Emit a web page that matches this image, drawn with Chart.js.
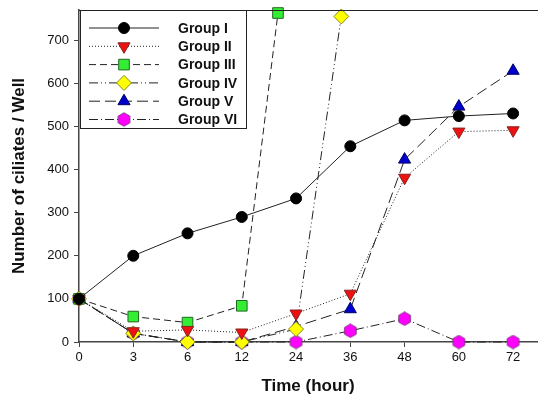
<!DOCTYPE html>
<html>
<head>
<meta charset="utf-8">
<script src="https://cdn.jsdelivr.net/npm/chart.js@4/dist/chart.umd.min.js"></script>
<style>
  html, body { margin: 0; padding: 0; background: #fff; }
  #wrap { width: 538px; height: 401px; }
</style>
</head>
<body>
<div id="wrap"><canvas id="Chart"></canvas></div>
<script>
// time axis categories (hours), evenly spaced on the plot
const hours = [0, 3, 6, 12, 24, 36, 48, 60, 72];
const yTicks = [0, 100, 200, 300, 400, 500, 600, 700];

// series values (time in hours, count per well)
const groupI_t   = [0, 3, 6, 12, 24, 36, 48, 60, 72];
const groupI     = [100, 200, 252, 290, 333, 454, 514, 524, 530];
const groupII_t  = [0, 3, 6, 12, 24, 36, 48, 60, 72];
const groupII    = [100, 25, 28, 22, 66, 112, 381, 488, 491];
const groupIII_t = [0, 3, 6, 12, 20];
const groupIII   = [100, 59, 45, 84, 763];
const groupIV_t  = [0, 3, 6, 12, 24, 34];
const groupIV    = [100, 20, 0, 0, 30, 755];
const groupV_t   = [0, 3, 6, 12, 24, 36, 48, 60, 72];
const groupV     = [100, 20, 0, 0, 36, 76, 423, 546, 629];
const groupVI_t  = [0, 3, 6, 12, 24, 36, 48, 60, 72];
const groupVI    = [100, 20, 0, 0, 0, 26, 54, 0, 0];

// hour -> position on the evenly spaced time axis
function hourPos(h) {
    for (let i = 0; i < hours.length - 1; i++) {
        if (h <= hours[i + 1]) {
            return i + (h - hours[i]) / (hours[i + 1] - hours[i]);
        }
    }
    return hours.length - 1;
}

function pts(ts, vs) {
    return ts.map((t, i) => ({ x: hourPos(t), y: vs[i] }));
}

// hexagon marker for Group VI
const hex = document.createElement('canvas');
hex.width = 15; hex.height = 15;
(function() {
    const c = hex.getContext('2d');
    c.beginPath();
    for (let k = 0; k < 6; k++) {
        const a = Math.PI / 2 + k * Math.PI / 3;
        const px = 7.5 + 6.8 * Math.cos(a), py = 7.5 + 6.8 * Math.sin(a);
        if (k === 0) c.moveTo(px, py); else c.lineTo(px, py);
    }
    c.closePath();
    c.fillStyle = '#ff00ff';
    c.fill();
    c.strokeStyle = '#663366';
    c.lineWidth = 0.8;
    c.stroke();
})();

function series(label, data, dash, style, fill, stroke, radius, rotation) {
    return {
        label: label,
        data: data,
        borderColor: '#222222',
        borderWidth: 1,
        borderDash: dash,
        pointStyle: style,
        pointRadius: radius,
        pointRotation: rotation || 0,
        pointBackgroundColor: fill,
        pointBorderColor: stroke,
        pointBorderWidth: 1,
        tension: 0,
        clip: false
    };
}

const datasets = [
    series('Group I',   pts(groupI_t, groupI),     [],                 'circle',   '#000000', '#000000', 5.5),
    series('Group II',  pts(groupII_t, groupII),   [1, 2],             'triangle', '#ee1111', '#882222', 7, 180),
    series('Group III', pts(groupIII_t, groupIII), [7, 4],             'rect',     '#33ee33', '#226622', 7.5),
    series('Group IV',  pts(groupIV_t, groupIV),   [9, 3, 1, 3, 1, 3], 'rectRot',  '#ffff00', '#888822', 7.5),
    series('Group V',   pts(groupV_t, groupV),     [11, 5],            'triangle', '#0000cc', '#000066', 7),
    series('Group VI',  pts(groupVI_t, groupVI),   [9, 3, 1, 3],       hex,        '#ff00ff', '#663366', 7)
];

// boxed legend in the top-left corner, with line samples and markers
const boxLegend = {
    id: 'boxLegend',
    afterDraw(chart) {
        const ctx = chart.ctx;
        const area = chart.chartArea;
        const x0 = area.left + 1, y0 = area.top, w = 166, h = 118;
        ctx.save();
        ctx.fillStyle = '#ffffff';
        ctx.fillRect(x0, y0, w, h);
        ctx.strokeStyle = '#222222';
        ctx.lineWidth = 1;
        ctx.strokeRect(x0 + 0.5, y0 + 0.5, w, h);
        chart.data.datasets.forEach((ds, i) => {
            const y = y0 + 18 + i * 18.3;
            ctx.beginPath();
            ctx.setLineDash(ds.borderDash);
            ctx.strokeStyle = ds.borderColor;
            ctx.lineWidth = 1;
            ctx.moveTo(x0 + 9, y);
            ctx.lineTo(x0 + 79, y);
            ctx.stroke();
            ctx.setLineDash([]);
            ctx.fillStyle = ds.pointBackgroundColor;
            ctx.strokeStyle = ds.pointBorderColor;
            Chart.helpers.drawPoint(ctx, {
                pointStyle: ds.pointStyle,
                radius: ds.pointRadius,
                rotation: ds.pointRotation,
                borderWidth: 1
            }, x0 + 44, y);
            ctx.fillStyle = '#111111';
            ctx.font = 'bold 14px "Liberation Sans", Arial, sans-serif';
            ctx.textBaseline = 'middle';
            ctx.textAlign = 'left';
            ctx.fillText(ds.label, x0 + 98, y + 1);
        });
        // top frame line of the plot
        ctx.beginPath();
        ctx.strokeStyle = '#222222';
        ctx.moveTo(area.left, area.top + 0.5);
        ctx.lineTo(chart.width, area.top + 0.5);
        ctx.stroke();
        ctx.restore();
    }
};

const ctx = document.getElementById('Chart').getContext('2d');
const myChart = new Chart(ctx, {
    type: 'line',
    data: { datasets: datasets },
    options: {
        responsive: true,
        maintainAspectRatio: false,
        animation: false,
        layout: { autoPadding: false, padding: { top: 10, right: 1, left: 0, bottom: 0 } },
        plugins: {
            legend: { display: false },
            tooltip: { enabled: false }
        },
        scales: {
            x: {
                type: 'linear',
                min: 0,
                max: 8.44,
                afterBuildTicks: axis => {
                    axis.ticks = hours.map((h, i) => ({ value: i }));
                },
                afterFit: axis => {
                    axis.height = 59;
                    axis.paddingLeft = 0;
                    axis.paddingRight = 0;
                },
                ticks: {
                    callback: v => hours[v],
                    color: '#111111',
                    font: { family: '"Liberation Sans", Arial, sans-serif', size: 13 },
                    padding: 3,
                    maxRotation: 0,
                    autoSkip: false
                },
                grid: {
                    drawOnChartArea: false,
                    tickLength: 5,
                    color: '#444444'
                },
                border: { color: '#444444', width: 1.5 },
                title: {
                    display: true,
                    text: 'Time (hour)',
                    color: '#111111',
                    font: { family: '"Liberation Sans", Arial, sans-serif', size: 17, weight: 'bold' },
                    padding: { top: 2, bottom: 4 }
                }
            },
            y: {
                min: 0,
                max: 770,
                afterBuildTicks: axis => {
                    axis.ticks = yTicks.map(v => ({ value: v }));
                },
                afterFit: axis => {
                    axis.width = 79;
                    axis.paddingTop = 0;
                    axis.paddingBottom = 0;
                },
                ticks: {
                    color: '#111111',
                    font: { family: '"Liberation Sans", Arial, sans-serif', size: 13 },
                    padding: 5
                },
                grid: {
                    drawOnChartArea: false,
                    tickLength: 5,
                    color: '#444444'
                },
                border: { color: '#444444', width: 1.5 },
                title: {
                    display: true,
                    text: 'Number of ciliates / Well',
                    color: '#111111',
                    font: { family: '"Liberation Sans", Arial, sans-serif', size: 17, weight: 'bold' },
                    padding: { top: 9, bottom: 0 }
                }
            }
        }
    },
    plugins: [boxLegend]
});
</script>
</body>
</html>
